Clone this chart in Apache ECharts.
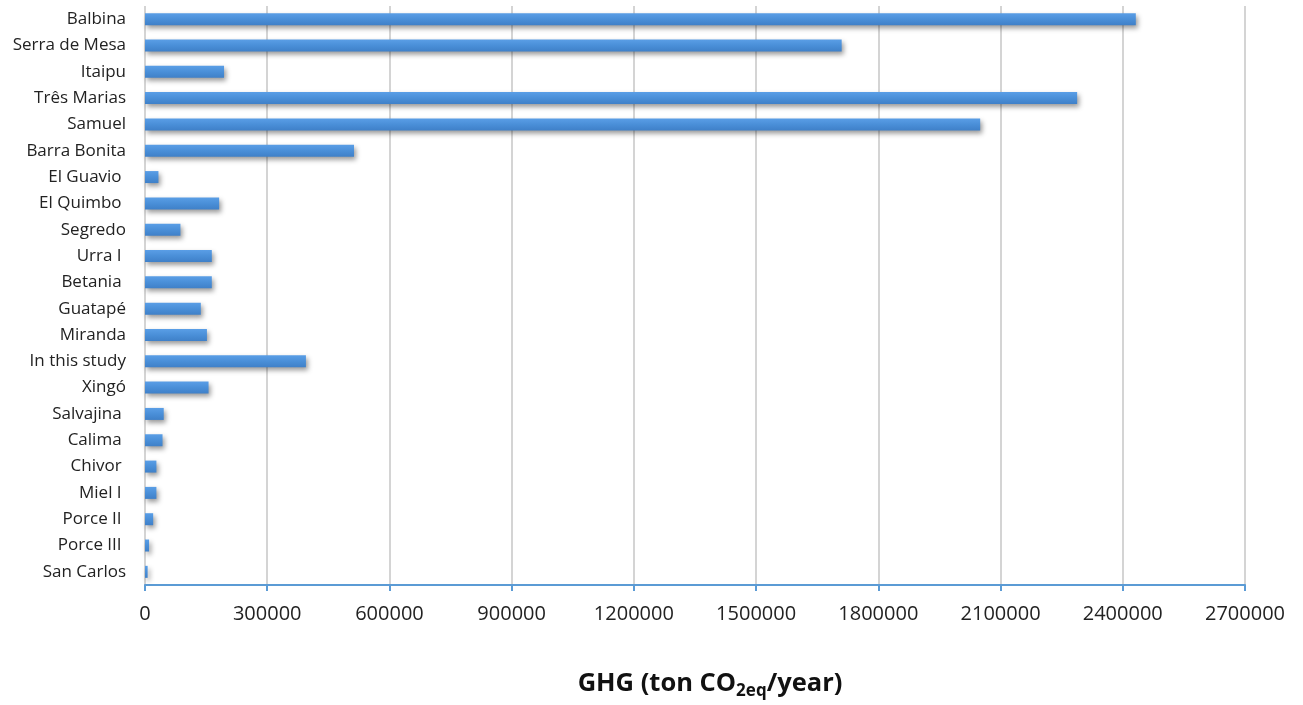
<!DOCTYPE html>
<html>
<head>
<meta charset="utf-8">
<script src="https://cdn.jsdelivr.net/npm/echarts@6/dist/echarts.min.js"></script>
<style>
html,body{margin:0;padding:0;background:#fff;}
#chart{width:1303px;height:705px;}
</style>
</head>
<body>
<div id="chart"></div>
<script>
const categories = ["Balbina","Serra de Mesa","Itaipu","Três Marias","Samuel","Barra Bonita","El Guavio ","El Quimbo ","Segredo","Urra I ","Betania ","Guatapé","Miranda","In this study","Xingó","Salvajina ","Calima ","Chivor ","Miel I ","Porce II ","Porce III ","San Carlos"];
const ghgValues = [2432000,1710000,194000,2288000,2050000,513000,33000,182000,87000,164000,164000,137000,152000,395000,156000,46000,43000,28000,28000,20000,10000,6500];
const tickMin = 0, tickMax = 2700000, tickStep = 300000;

const el = document.getElementById('chart');
const chart = echarts.init(el);
chart.setOption({
  animation: false,
  backgroundColor: '#ffffff',
  grid: {left: 145, right: 58, top: 6, bottom: 120, containLabel: false},
  xAxis: {
    type: 'value', min: tickMin, max: tickMax, interval: tickStep,
    axisLine: {show: true, lineStyle: {color: '#5b9bd5', width: 2}},
    axisTick: {show: true, length: 6, lineStyle: {color: '#5b9bd5', width: 2}},
    splitLine: {show: true, lineStyle: {color: '#d4d4d4', width: 2}},
    axisLabel: {color: '#222', fontFamily: 'Open Sans', fontSize: 20, margin: 19, formatter: v => String(v)},
    name: '{a|GHG (ton CO}{b|2eq}{a|/year)}',
    nameLocation: 'middle', nameGap: 83,
    nameTextStyle: {
      padding: [0, 0, 0, 30],
      rich: {
        a: {fontFamily: 'Open Sans', fontWeight: 'bold', fontSize: 25.5, color: '#111', lineHeight: 32},
        b: {fontFamily: 'Open Sans', fontWeight: 'bold', fontSize: 17, color: '#111', verticalAlign: 'bottom', lineHeight: 32, padding: [17,0,0,0]}
      }
    }
  },
  yAxis: {
    type: 'category', data: categories, inverse: true,
    axisLine: {show: false}, axisTick: {show: false},
    axisLabel: {color: '#222', fontFamily: 'Open Sans', fontSize: 17, margin: 19}
  },
  series: [{
    type: 'bar', data: ghgValues, barWidth: 12,
    itemStyle: {
      color: new echarts.graphic.LinearGradient(0,0,0,1,[{offset:0,color:'#5a9ee6'},{offset:0.5,color:'#4a8fd8'},{offset:1,color:'#3f80c8'}]),
      shadowColor: 'rgba(0,0,0,0.4)', shadowBlur: 5, shadowOffsetX: 2, shadowOffsetY: 3
    }
  }]
});
</script>
</body>
</html>
